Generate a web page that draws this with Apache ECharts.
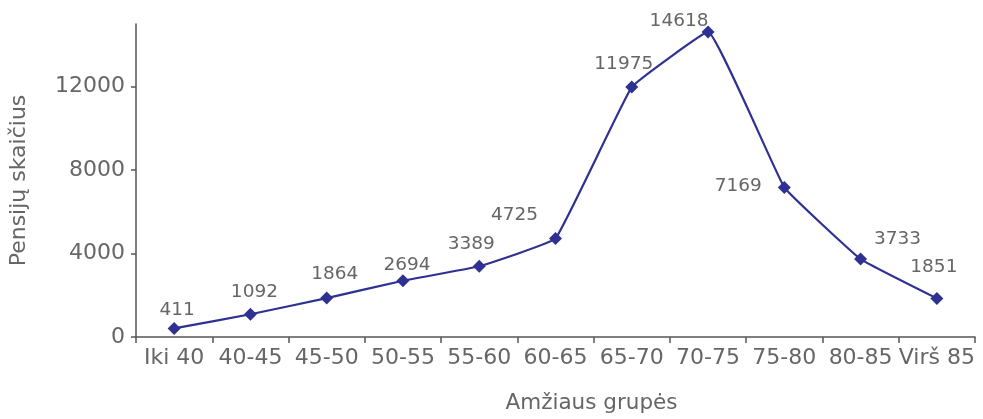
<!DOCTYPE html>
<html>
<head>
<meta charset="utf-8">
<script src="https://cdn.jsdelivr.net/npm/echarts@6/dist/echarts.min.js"></script>
<style>
  html, body { margin: 0; padding: 0; background: #fff; }
  #chart { width: 983px; height: 419px; }
</style>
</head>
<body>
<div id="chart"></div>
<script>
// Age groups and number of pensions in each
const categories = ['Iki 40', '40-45', '45-50', '50-55', '55-60', '60-65', '65-70', '70-75', '75-80', '80-85', 'Virš 85'];
const pensions = [411, 1092, 1864, 2694, 3389, 4725, 11975, 14618, 7169, 3733, 1851];
const yTicks = [0, 4000, 8000, 12000];

// Where each value label sits relative to its point (pixels)
const labelOffsets = [
  [3, -18], [4, -22], [8, -24], [4, -16], [-8, -22], [-41, -23],
  [-8, -23], [-29, -11], [-46, -1], [37, -20], [-3, -31]
];

const FONT = 'DejaVu Sans';
const GREY = '#666666';
const NAVY = '#2e3192';

const chart = echarts.init(document.getElementById('chart'), null, { renderer: 'canvas' });

chart.setOption({
  animation: false,
  backgroundColor: '#ffffff',
  grid: { left: 133, right: 8, top: 24, bottom: 81.5, containLabel: false },
  xAxis: {
    type: 'category',
    data: categories,
    boundaryGap: true,
    name: 'Amžiaus grupės',
    nameLocation: 'middle',
    nameGap: 55,
    nameTextStyle: { fontFamily: FONT, fontSize: 21.5, color: GREY, padding: [0, 0, 0, 72] },
    axisLine: { lineStyle: { color: '#555555', width: 1.5 } },
    axisTick: { show: true, interval: 0, length: 6, alignWithLabel: false, lineStyle: { color: '#555555', width: 1.5 } },
    axisLabel: { interval: 0, margin: 10, fontFamily: FONT, fontSize: 22, color: GREY }
  },
  yAxis: {
    type: 'value',
    min: 0,
    max: 15000,
    interval: 4000,
    name: 'Pensijų skaičius',
    nameLocation: 'middle',
    nameGap: 106,
    nameRotate: 90,
    nameTextStyle: { fontFamily: FONT, fontSize: 22, color: GREY },
    splitLine: { show: false },
    axisLine: { show: true, lineStyle: { color: '#555555', width: 1.5 } },
    axisTick: { show: true, length: 5, customValues: yTicks, lineStyle: { color: '#555555', width: 1.5 } },
    axisLabel: {
      margin: 11, customValues: yTicks, fontFamily: FONT, fontSize: 22, color: GREY,
      formatter: (v) => String(v)
    }
  },
  series: [{
    type: 'line',
    data: pensions.map((v, i) => ({
      value: v,
      label: { offset: labelOffsets[i] }
    })),
    smooth: 0.08,
    symbol: 'diamond',
    symbolSize: 13,
    lineStyle: { color: NAVY, width: 2.2 },
    itemStyle: { color: NAVY },
    label: {
      show: true,
      position: 'inside',
      fontFamily: FONT,
      fontSize: 18.5,
      color: GREY
    }
  }]
});
</script>
</body>
</html>
